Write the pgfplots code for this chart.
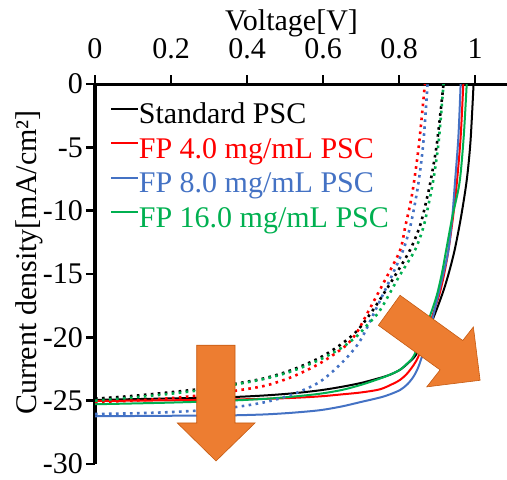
\documentclass[border=0pt]{standalone}
\usepackage{fontspec}
\setmainfont{Liberation Serif}
\usepackage{pgfplots}
\pgfplotsset{compat=1.18}
\definecolor{fpred}{HTML}{FF0000}
\definecolor{fpblue}{HTML}{4472C4}
\definecolor{fpgreen}{HTML}{00B050}
\definecolor{arroworange}{HTML}{ED7D31}
\definecolor{arrowedge}{HTML}{C55A11}
\begin{document}
\begin{tikzpicture}
\useasboundingbox (-47.5pt,42pt) rectangle (206pt,-197.5pt);
\begin{axis}[
    at={(0,0)}, anchor=north west,
    scale only axis, width=206pt, height=190pt,
    font=\fontsize{15}{18}\selectfont,
    xmin=0, xmax=1.084, ymin=-30, ymax=0,
    axis x line*=top, axis y line*=left,
    axis line style={line width=1.5pt, -},
    tick align=outside, major tick length=4.5pt,
    tick style={line width=1.2pt, black},
    xtick={0,0.2,0.4,0.6,0.8,1},
    xticklabels={0,0.2,0.4,0.6,0.8,1},
    ytick={-30,-25,-20,-15,-10,-5,0},
    yticklabels={-30,-25,-20,-15,-10,-5,0},
    xticklabel style={yshift=4.5pt},
    yticklabel style={xshift=2pt, inner ysep=0pt},
    xlabel={Voltage[V]},
    ylabel={Current density[mA/cm²]},
    xlabel style={at={(axis description cs:0.477,1.16)}, anchor=center},
    ylabel style={at={(axis description cs:-0.16,0.53)}, anchor=center, rotate=0},
    legend cell align=left,
    legend style={draw=none, fill=none, inner sep=0pt,
        at={(axis description cs:0.036,0.955)}, anchor=north west,
        nodes={inner sep=0pt, text height=11pt, text depth=3pt},
        row sep=3.25pt, column sep=0pt},
    legend image code/.code={\draw[#1, line width=1pt] (0pt,3.5pt) -- (13.3pt,3.5pt);},
    clip=true,
]
% solid curves
\addplot[black, line width=1pt, smooth] coordinates {
(0,-24.94) (0.1,-24.88) (0.2,-24.82) (0.3,-24.76) (0.373,-24.70) (0.45,-24.58)
(0.52,-24.42) (0.592,-24.18) (0.65,-23.9) (0.70,-23.6) (0.75,-23.2) (0.776,-22.95)
(0.803,-22.55) (0.825,-22.0) (0.844,-21.4) (0.87,-19.9) (0.895,-18.1) (0.917,-16.3)
(0.932,-14.8) (0.947,-13.0) (0.963,-10.5) (0.978,-7.6) (0.988,-4.5) (0.996,0)
};
\addlegendentry{Standard PSC}
\addplot[fpred, line width=1pt, smooth] coordinates {
(0,-25.02) (0.1,-25.0) (0.2,-24.97) (0.3,-24.93) (0.373,-24.9) (0.45,-24.85)
(0.52,-24.78) (0.592,-24.66) (0.65,-24.5) (0.70,-24.35) (0.75,-24.1) (0.785,-23.65)
(0.803,-23.35) (0.82,-22.9) (0.838,-22.2) (0.851,-21.5) (0.87,-19.9) (0.89,-18.1)
(0.908,-16.4) (0.92,-14.8) (0.93,-13.1) (0.942,-10.5) (0.952,-7.8) (0.962,-4.2) (0.969,0)
};
\addlegendentry{\textcolor{fpred}{FP 4.0 mg/mL PSC}}
\addplot[fpblue, line width=1pt, smooth] coordinates {
(0,-26.23) (0.1,-26.21) (0.2,-26.19) (0.3,-26.17) (0.373,-26.15) (0.45,-26.08)
(0.52,-25.95) (0.592,-25.75) (0.65,-25.45) (0.70,-25.1) (0.75,-24.75) (0.776,-24.5)
(0.803,-24.15) (0.822,-23.7) (0.838,-23.1) (0.85,-22.4) (0.86,-21.55) (0.875,-20.2)
(0.89,-18.3) (0.905,-16.4) (0.918,-14.8) (0.93,-13.1) (0.94,-10.5) (0.947,-7.8)
(0.956,-4.2) (0.962,0)
};
\addlegendentry{\textcolor{fpblue}{FP 8.0 mg/mL PSC}}
\addplot[fpgreen, line width=1pt, smooth] coordinates {
(0,-25.28) (0.1,-25.22) (0.2,-25.15) (0.3,-25.06) (0.373,-24.97) (0.45,-24.85)
(0.52,-24.68) (0.592,-24.45) (0.65,-24.15) (0.70,-23.75) (0.75,-23.25) (0.776,-22.95)
(0.803,-22.55) (0.82,-22.1) (0.838,-21.5) (0.862,-19.9) (0.885,-18.0) (0.9,-16.6)
(0.913,-14.9) (0.924,-13.1) (0.94,-10.5) (0.959,-7.8) (0.97,-4.2) (0.978,0)
};
\addlegendentry{\textcolor{fpgreen}{FP 16.0 mg/mL PSC}}
% dotted curves
\addplot[black, line width=1.3pt, dash pattern=on 1.3pt off 2.2pt, smooth, forget plot] coordinates {
(0,-24.84) (0.1,-24.62) (0.2,-24.33) (0.3,-24.0) (0.373,-23.65) (0.45,-23.2)
(0.52,-22.55) (0.592,-21.6) (0.645,-20.6) (0.689,-19.5) (0.73,-17.9) (0.765,-16.3)
(0.792,-15.0) (0.829,-13.1) (0.855,-11.2) (0.872,-9.2) (0.884,-7.5) (0.9,-4.6) (0.917,0)
};
\addplot[fpred, line width=1.3pt, dash pattern=on 1.3pt off 2.2pt, smooth, forget plot] coordinates {
(0,-25.1) (0.1,-25.0) (0.2,-24.8) (0.3,-24.5) (0.373,-24.2) (0.45,-23.8)
(0.52,-23.1) (0.592,-22.05) (0.658,-20.7) (0.689,-19.6) (0.72,-17.9) (0.768,-15.2)
(0.803,-13.1) (0.816,-11.3) (0.83,-9.4) (0.84,-7.6) (0.853,-4.6) (0.868,0)
};
\addplot[fpblue, line width=1.3pt, dash pattern=on 1.3pt off 2.2pt, smooth, forget plot] coordinates {
(0,-26.05) (0.1,-26.0) (0.2,-25.9) (0.3,-25.72) (0.373,-25.49) (0.45,-25.1)
(0.52,-24.5) (0.592,-23.5) (0.653,-21.9) (0.697,-20.3) (0.737,-17.9)
(0.78,-15.2) (0.811,-13.1) (0.829,-11.3) (0.842,-9.4) (0.852,-7.6) (0.864,-4.6) (0.875,0)
};
\addplot[fpgreen, line width=1.3pt, dash pattern=on 1.3pt off 2.2pt, smooth, forget plot] coordinates {
(0,-25.0) (0.1,-24.75) (0.2,-24.45) (0.3,-24.08) (0.373,-23.7) (0.45,-23.25)
(0.52,-22.65) (0.592,-21.75) (0.65,-20.8) (0.689,-19.9) (0.72,-18.9) (0.75,-17.86)
(0.8,-15.2) (0.842,-13.1) (0.864,-11.3) (0.879,-9.3) (0.89,-7.6) (0.904,-4.6) (0.917,0)
};
% orange block arrows
\filldraw[fill=arroworange, draw=arrowedge, line width=0.3pt]
  (axis cs:0.2676,-20.62) -- (axis cs:0.3684,-20.62) -- (axis cs:0.3684,-26.76)
  -- (axis cs:0.421,-26.76) -- (axis cs:0.3184,-29.76) -- (axis cs:0.2166,-26.76)
  -- (axis cs:0.2676,-26.76) -- cycle;
\filldraw[fill=arroworange, draw=arrowedge, line width=0.3pt]
  (axis cs:0.8026,-16.68) -- (axis cs:0.9676,-20.25) -- (axis cs:0.9955,-19.18)
  -- (axis cs:1.0132,-23.39) -- (axis cs:0.8729,-23.91) -- (axis cs:0.9079,-22.57)
  -- (axis cs:0.7455,-19.05) -- cycle;
\end{axis}
\end{tikzpicture}
\end{document}
